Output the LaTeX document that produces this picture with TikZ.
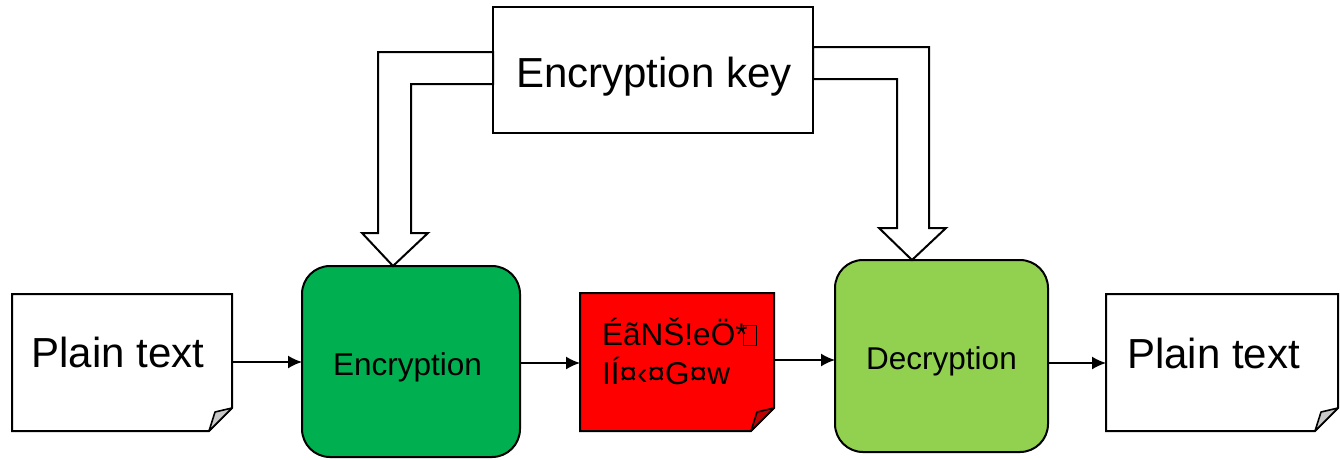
\documentclass[tikz,border=0pt]{standalone}
\usepackage{fontspec}
\setmainfont{Liberation Sans}
\usetikzlibrary{arrows.meta}
\definecolor{encgreen}{HTML}{00B050}
\definecolor{decgreen}{HTML}{92D050}
\definecolor{ctred}{HTML}{FF0000}
\definecolor{ctfold}{HTML}{C00000}
\definecolor{foldgrey}{HTML}{C8C8C8}
\newcommand{\notdefbox}{\kern-5pt\begingroup\setlength{\fboxsep}{0pt}\setlength{\fboxrule}{0.8pt}\fbox{\rule{0pt}{19pt}\hspace{12.4pt}}\endgroup}
\newcommand{\docshape}[3]{%
  \filldraw[fill=#2, line width=2pt, line join=miter] (#1.north west) -- (#1.north east) -- ([yshift=23pt]#1.south east) -- ([xshift=-23pt]#1.south east) -- (#1.south west) -- cycle;
  \filldraw[fill=#3, line width=1.6pt, line join=round] ([xshift=-23pt]#1.south east) -- ([xshift=-17pt,yshift=19pt]#1.south east) -- ([yshift=23pt]#1.south east) -- cycle;}
\tikzset{
  shapebox/.style={rectangle, inner sep=0pt, outer sep=0pt, line width=2pt},
  procbox/.style={shapebox, draw, rounded corners=28pt},
  bigtext/.style={font=\fontsize{42}{48}\selectfont, inner sep=0pt},
  smalltext/.style={font=\fontsize{31.5}{36}\selectfont, inner sep=0pt},
  conn/.style={line width=1.6pt, -{Latex[length=14pt,width=13pt]}},
  blockarrow/.style={draw, fill=white, line width=2pt, line join=miter}
}
\begin{document}
\begin{tikzpicture}[x=1pt,y=-1pt]
\useasboundingbox (0,0) rectangle (1340,459);
% shapes
\node[shapebox, minimum width=220pt, minimum height=137pt] (p1) at (122,362.5) {};
\node[procbox, fill=encgreen, minimum width=218pt, minimum height=191pt] (enc) at (411,361.5) {};
\node[shapebox, minimum width=194pt, minimum height=138pt] (ct) at (677,362) {};
\node[procbox, fill=decgreen, minimum width=213pt, minimum height=192pt] (dec) at (941.5,356) {};
\node[shapebox, minimum width=232pt, minimum height=137pt] (p2) at (1222,362.5) {};
\node[shapebox, draw, fill=white, minimum width=320pt, minimum height=126pt] (key) at (653,70) {};
\docshape{p1}{white}{foldgrey}
\docshape{ct}{ctred}{ctfold}
\docshape{p2}{white}{foldgrey}
% texts
\node[bigtext, anchor=base] (p1t) at (118,367) {Plain text};
\node[smalltext, anchor=base] (enct) at (407.5,375) {Encryption};
\node[smalltext, anchor=base west] (ct1) at (602,345) {ÉãNŠ!eÖ*\notdefbox};
\node[smalltext, anchor=base west] (ct2) at (602,384) {IÍ¤‹¤G¤w};
\node[smalltext, anchor=base] (dect) at (941.5,369) {Decryption};
\node[bigtext, anchor=base] (p2t) at (1213.5,368) {Plain text};
\node[bigtext, anchor=base] (keyt) at (654,87) {Encryption key};
% connectors
\draw[conn] (p1.east |- 0,362) -- (enc.west |- 0,362);
\draw[conn] (enc.east |- 0,363) -- (ct.west |- 0,363);
\draw[conn] (ct.east |- 0,360) -- (dec.west |- 0,360);
\draw[conn] (dec.east |- 0,363) -- (p2.west |- 0,363);
% block arrows
\draw[blockarrow] (key.west |- 0,52) -- (378,52) -- (378,233) -- (362,233) -- (enc.north -| 393,0) -- (428,233) -- (411,233) -- (411,84) -- (key.west |- 0,84) -- cycle;
\draw[blockarrow] (key.east |- 0,47) -- (929,47) -- (929,228) -- (946,228) -- (dec.north -| 912,0) -- (879,228) -- (897,228) -- (897,79) -- (key.east |- 0,79) -- cycle;
\end{tikzpicture}
\end{document}
